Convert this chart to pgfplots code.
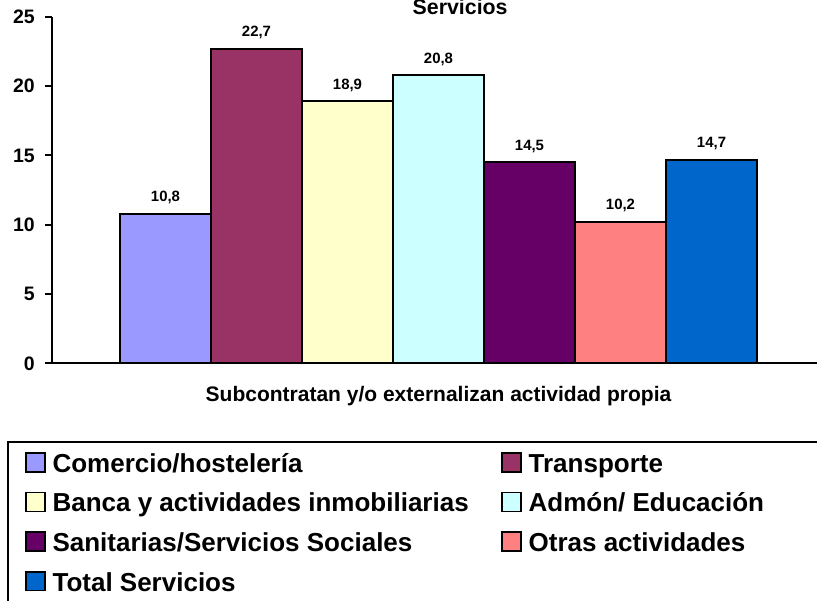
\documentclass[border=0pt]{standalone}
\usepackage{fontspec}
\setmainfont{Liberation Sans}
\usepackage{pgfplots}
\pgfplotsset{compat=1.18}
\definecolor{cA}{HTML}{9999FF}
\definecolor{cB}{HTML}{993366}
\definecolor{cC}{HTML}{FFFFCC}
\definecolor{cD}{HTML}{CCFFFF}
\definecolor{cE}{HTML}{660066}
\definecolor{cF}{HTML}{FF8080}
\definecolor{cG}{HTML}{0066CC}
\begin{document}
\begin{tikzpicture}
\useasboundingbox (0,0) rectangle (612.75pt,450pt);
\clip (0,0) rectangle (612.75pt,450pt);
\begin{axis}[
  at={(39pt,177.525pt)}, anchor=south west,
  width=579.75pt, height=259.875pt, scale only axis,
  xmin=-1.247, xmax=7.247, ymin=0, ymax=25,
  axis x line*=bottom, axis y line*=left,
  x axis line style={-}, y axis line style={-},
  axis line style={line width=1.5pt, black},
  xtick=\empty, ytick={0,5,10,15,20,25},
  tick align=outside, major tick length=5.25pt,
  ytick style={line width=1.5pt, black},
  /pgf/number format/assume math mode=true,
  yticklabel style={font=\bfseries\fontsize{14.6}{16}\selectfont, anchor=east, inner sep=0pt, xshift=-7.5pt},
  xlabel={Subcontratan y/o externalizan actividad propia},
  xlabel style={font=\bfseries\fontsize{15.75}{18}\selectfont, at={(axis description cs:0.5,0)}, anchor=base, yshift=-28.8pt},
  title={Servicios},
  title style={font=\bfseries\fontsize{16}{19}\selectfont, at={(axis description cs:0.528,1)}, anchor=base, yshift=-4pt},
  nodes near coords,
  nodes near coords style={font=\bfseries\fontsize{11.2}{13}\selectfont, anchor=base, yshift=9pt,
    /pgf/number format/fixed, /pgf/number format/precision=1, /pgf/number format/fixed zerofill,
    /pgf/number format/use comma, /pgf/number format/assume math mode=true},
  legend columns=2, legend cell align=left,
  legend style={at={(axis description cs:-0.0349,-0.256)}, anchor=north west, draw=none, fill=none,
    font=\bfseries\fontsize{19.5}{23}\selectfont, inner sep=0pt, row sep=9.2pt,
    /tikz/every odd column/.append style={column sep=5.25pt},
    /tikz/every even column/.append style={column sep=24.5pt},
    nodes={inner sep=0pt, text height=14.5pt, text depth=5.5pt}},
  legend image code/.code={\draw[#1, draw=black, line width=1.2pt] (0pt,-4.1pt) rectangle (14pt,9.9pt);},
]
\addplot[ybar, bar width=68.25pt, bar shift=0pt, fill=cA, draw=black, line width=1.5pt] coordinates {(0,10.8)};
\addlegendentry{Comercio/hostelería}
\addplot[ybar, bar width=68.25pt, bar shift=0pt, fill=cB, draw=black, line width=1.5pt] coordinates {(1,22.7)};
\addlegendentry{Transporte}
\addplot[ybar, bar width=68.25pt, bar shift=0pt, fill=cC, draw=black, line width=1.5pt] coordinates {(2,18.9)};
\addlegendentry{Banca y actividades inmobiliarias}
\addplot[ybar, bar width=68.25pt, bar shift=0pt, fill=cD, draw=black, line width=1.5pt] coordinates {(3,20.8)};
\addlegendentry{Admón/ Educación}
\addplot[ybar, bar width=68.25pt, bar shift=0pt, fill=cE, draw=black, line width=1.5pt] coordinates {(4,14.5)};
\addlegendentry{Sanitarias/Servicios Sociales}
\addplot[ybar, bar width=68.25pt, bar shift=0pt, fill=cF, draw=black, line width=1.5pt] coordinates {(5,10.2)};
\addlegendentry{Otras actividades}
\addplot[ybar, bar width=68.25pt, bar shift=0pt, fill=cG, draw=black, line width=1.5pt] coordinates {(6,14.7)};
\addlegendentry{Total Servicios}
\end{axis}
\draw[line width=1.5pt] (6pt,-20pt) rectangle (640pt,118.7pt);
\end{tikzpicture}
\end{document}
